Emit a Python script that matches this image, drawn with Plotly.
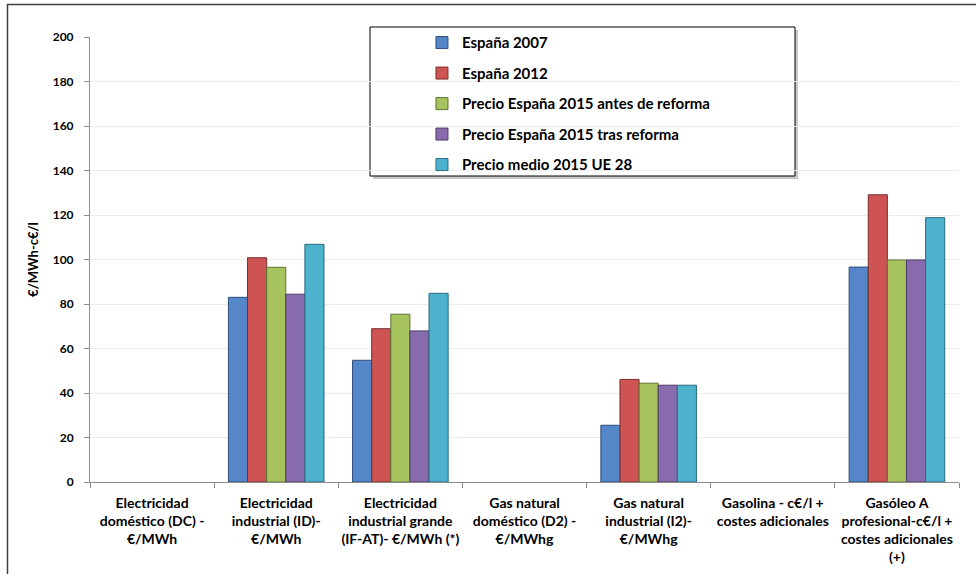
import plotly.graph_objects as go

categories = [
    "Electricidad<br>doméstico (DC) -<br>€/MWh",
    "Electricidad<br>industrial (ID)-<br>€/MWh",
    "Electricidad<br>industrial grande<br>(IF-AT)- €/MWh (*)",
    "Gas natural<br>doméstico (D2) -<br>€/MWhg",
    "Gas natural<br>industrial (I2)-<br>€/MWhg",
    "Gasolina - c€/l +<br>costes adicionales",
    "Gasóleo A<br>profesional-c€/l +<br>costes adicionales<br>(+)",
]

series_names = [
    "España 2007",
    "España 2012",
    "Precio España 2015 antes de reforma",
    "Precio España 2015 tras reforma",
    "Precio medio 2015 UE 28",
]

espana_2007 = [None, 83.0, 54.7, None, 25.5, None, 96.6]
espana_2012 = [None, 100.8, 68.9, None, 46.1, None, 129.1]
antes_reforma = [None, 96.5, 75.4, None, 44.4, None, 99.8]
tras_reforma = [None, 84.4, 67.9, None, 43.5, None, 99.8]
ue28 = [None, 106.8, 84.8, None, 43.5, None, 118.8]

y_ticks = [0, 20, 40, 60, 80, 100, 120, 140, 160, 180, 200]

values = [espana_2007, espana_2012, antes_reforma, tras_reforma, ue28]
fills = ["#5486C8", "#CD5452", "#A6C35F", "#886BAC", "#4DB2CE"]
edges = ["#2E4D7A", "#7A2E2C", "#5E7532", "#4E3B66", "#2A6B7E"]

FONT = "Lato"

fig = go.Figure()
for i, (name, vals) in enumerate(zip(series_names, values)):
    fig.add_trace(go.Bar(
        x=categories, y=vals, name=name,
        marker=dict(color=fills[i], line=dict(color=edges[i], width=1)),
        legendgroup=f"g{i}",
    ))

fig.update_layout(
    width=976, height=574,
    margin=dict(l=90, r=17, t=37, b=92, autoexpand=False),
    paper_bgcolor="white", plot_bgcolor="white",
    barmode="group", bargap=0.23, bargroupgap=0,
    font=dict(family=FONT, color="black"),
    showlegend=True,
    legend=dict(
        x=0.382, y=1.024, xanchor="left", yanchor="top",
        bgcolor="rgba(0,0,0,0)", borderwidth=0,
        font=dict(family=FONT, size=15, color="black", weight="bold"),
        tracegroupgap=8, itemwidth=30,
    ),
    xaxis=dict(
        type="category", automargin=False,
        showline=True, linecolor="#8c8c8c", linewidth=1,
        ticks="outside", tickson="boundaries", ticklen=5, tickcolor="#8c8c8c",
        ticklabelstandoff=8,
        tickfont=dict(family=FONT, size=14, color="black", weight="bold"),
        tickangle=0, showgrid=False,
    ),
    yaxis=dict(
        range=[0, 200], tickvals=y_ticks, automargin=False,
        showline=True, linecolor="#8c8c8c", linewidth=1,
        ticks="outside", ticklen=5, tickcolor="#8c8c8c",
        ticklabelstandoff=8,
        showgrid=True, gridcolor="#ececec", gridwidth=1,
        zeroline=False,
        tickfont=dict(family=FONT, size=12, color="black", weight="bold"),
        title=dict(text="€/MWh-c€/l", font=dict(family=FONT, size=13, color="black", weight="bold"), standoff=11),
    ),
)

def px_x(p):
    return (p - 90) / 869.0

def px_y(p):
    return (482 - p) / 445.0

# legend frame with shadow
fig.add_shape(type="rect", xref="paper", yref="paper",
              x0=px_x(373), x1=px_x(798), y0=px_y(179), y1=px_y(30),
              line=dict(width=0), fillcolor="#c8c8c8", layer="below")
fig.add_shape(type="rect", xref="paper", yref="paper",
              x0=px_x(370), x1=px_x(795), y0=px_y(176), y1=px_y(27),
              line=dict(color="black", width=1), fillcolor="white", layer="below")
# outer chart border
fig.add_shape(type="rect", xref="paper", yref="paper",
              x0=px_x(7.5), x1=px_x(1000), y0=px_y(600), y1=px_y(4.5),
              line=dict(color="#404040", width=1.5), fillcolor="rgba(0,0,0,0)")

fig.write_html("out.html", config={"displayModeBar": False},
               post_script="document.body.style.margin='0';")
